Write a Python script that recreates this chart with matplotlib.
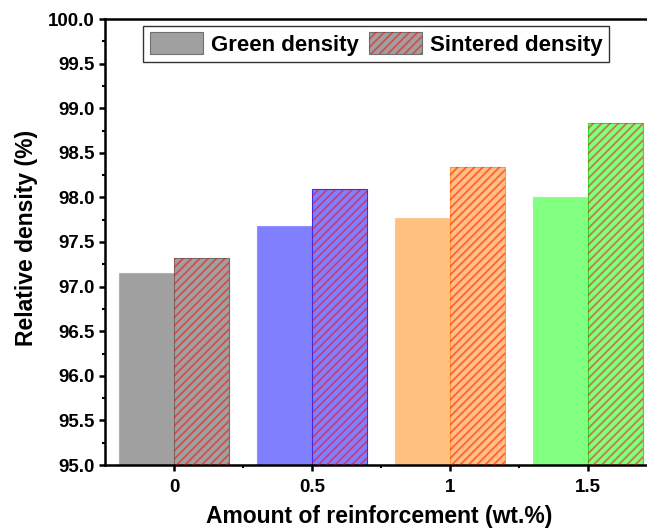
import numpy as np
import matplotlib
matplotlib.use("Agg")
import matplotlib.pyplot as plt
from matplotlib.patches import Patch

plt.rcParams['font.family'] = ['Liberation Sans', 'DejaVu Sans']
plt.rcParams['font.weight'] = 'bold'
plt.rcParams['hatch.linewidth'] = 1.3

categories = ["0", "0.5", "1", "1.5"]
positions = [0.0, 0.5, 1.0, 1.5]
green_density = [97.15, 97.68, 97.77, 98.00]
sintered_density = [97.32, 98.09, 98.34, 98.83]
series_names = ["Green density", "Sintered density"]

face_colors = ["#a0a0a0", "#8080ff", "#ffc080", "#80ff80"]
green_edges = ["#b0b0b0", "#9090ff", "#ffc890", "#90ff90"]
sint_edges = ["#707070", "#3030ff", "#ff9a40", "#30e030"]
hatch_color = (1.0, 0.0, 0.0, 0.5)

fig = plt.figure(figsize=(6.47, 5.29), dpi=100)
W, H = 647, 529
left, right, top, bottom = 105, 657, 19, 465
ax = fig.add_axes([left / W, 1 - bottom / H, (right - left) / W, (bottom - top) / H])

x = np.array(positions)
bw = 0.2
ax.bar(x - bw / 2, green_density, bw, color=face_colors, edgecolor=green_edges, linewidth=0.8, zorder=2)
ax.bar(x + bw / 2, sintered_density, bw, color=face_colors, edgecolor=sint_edges, linewidth=0.8, zorder=2)
ax.bar(x + bw / 2, sintered_density, bw, facecolor='none', edgecolor=hatch_color, hatch='////', linewidth=0, zorder=3)

ax.set_xlim(-0.25, 1.75)
ax.set_ylim(95.0, 100.0)
ax.set_xticks(positions)
ax.set_xticklabels(categories)
ax.set_xticks([0.25, 0.75, 1.25], minor=True)
ax.set_yticks(np.arange(95.0, 100.01, 0.5))
ax.set_yticklabels([f"{v:.1f}" for v in np.arange(95.0, 100.01, 0.5)])
ax.set_yticks(np.arange(95.25, 100.0, 0.5), minor=True)

for s in ax.spines.values():
    s.set_linewidth(1.8)
ax.tick_params(axis='both', which='major', direction='out', length=4, width=1.8, labelsize=13.5, pad=3.5)
ax.tick_params(axis='both', which='minor', direction='out', length=2.5, width=1.5)
ax.tick_params(axis='x', which='major', pad=6)
for lab in ax.get_xticklabels() + ax.get_yticklabels():
    lab.set_fontweight('bold')

ax.set_xlabel("Amount of reinforcement (wt.%)", fontsize=16.5, fontweight='bold')
ax.set_ylabel("Relative density (%)", fontsize=16.5, fontweight='bold')
ax.xaxis.set_label_coords(0.497, -0.09)
ax.yaxis.set_label_coords(-0.122, 0.51)

h1 = Patch(facecolor=face_colors[0], edgecolor="#707070", linewidth=0.8)
h2 = Patch(facecolor=face_colors[0], edgecolor="#707070", linewidth=0.8)
h2b = Patch(facecolor='none', edgecolor=hatch_color, hatch='////', linewidth=0)
leg = ax.legend([h1, (h2, h2b)], series_names, loc='upper center', bbox_to_anchor=((376 - 105) / 552, 0.984),
                ncol=2, prop={'weight': 'bold', 'size': 16}, frameon=True, fancybox=False,
                edgecolor='black', handlelength=2.4, handleheight=1.15, handletextpad=0.35,
                columnspacing=0.45, borderpad=0.28, borderaxespad=0.0)
leg.get_frame().set_linewidth(1.0)

fig.savefig("out.png", dpi=100)
